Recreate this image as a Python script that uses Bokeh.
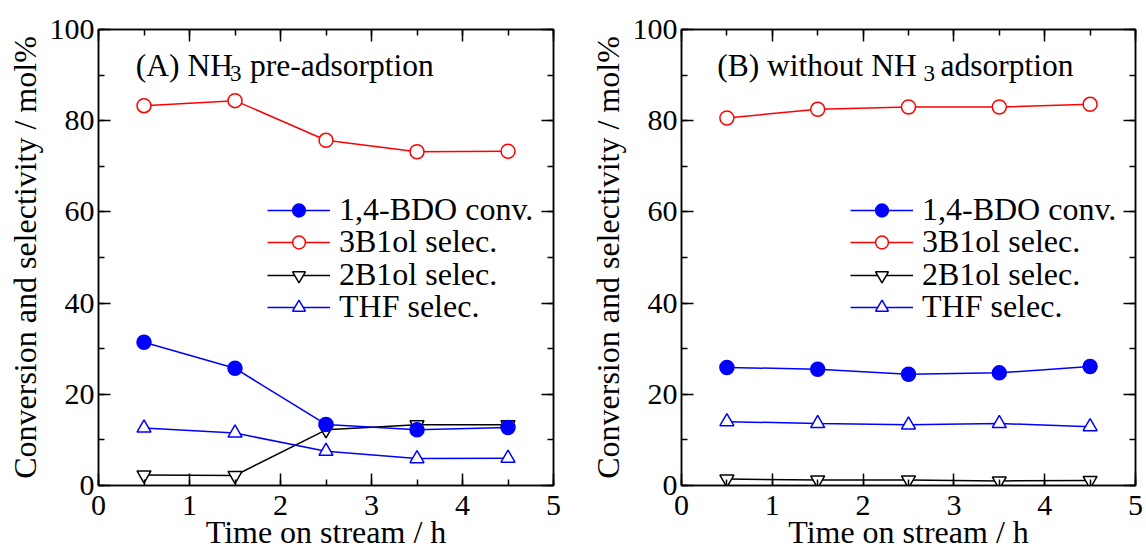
from bokeh.plotting import figure
from bokeh.models import Range1d, SingleIntervalTicker, LinearAxis, Legend, LegendItem, Label
from bokeh.layouts import row
from bokeh.embed import file_html
from bokeh.resources import INLINE

FONT = "Liberation Serif"

# ---- data ----
time_h = [0.5, 1.5, 2.5, 3.5, 4.5]

a_bdo_conv = [31.4, 25.7, 13.4, 12.2, 12.7]
a_3b1ol_sel = [83.3, 84.4, 75.7, 73.2, 73.3]
a_2b1ol_sel = [2.3, 2.2, 12.2, 13.3, 13.3]
a_thf_sel = [12.6, 11.5, 7.5, 5.9, 6.0]

b_bdo_conv = [25.9, 25.5, 24.4, 24.7, 26.1]
b_3b1ol_sel = [80.6, 82.5, 83.0, 83.0, 83.6]
b_2b1ol_sel = [1.4, 1.2, 1.2, 1.0, 1.1]
b_thf_sel = [14.0, 13.6, 13.3, 13.6, 12.9]

series_labels = ["1,4-BDO conv.", "3B1ol selec.", "2B1ol selec.", "THF selec."]
series_colors = ["#0000ff", "#ff0000", "#000000", "#0000ff"]
series_markers = ["circle", "circle", "inverted_triangle", "triangle"]
series_fill = ["#0000ff", "#ffffff", "#ffffff", "#ffffff"]
draw_order = [2, 3, 1, 0]

x_label = "Time on stream / h"
y_label = "Conversion and selectivity / mol%"

title_a = ["(A) NH", "3", "pre-adsorption"]
title_b = ["(B) without NH", "3", "adsorption"]
title_a_x = [0.41, 1.445, 1.665]
title_b_x = [0.393, 2.665, 2.852]
title_y = [92.1, 90.3, 92.1]
title_sizes = ["31.5px", "23px", "31.5px"]

# legend rows: pixel offset of each row box above the frame bottom
legend_row_offsets = [257, 225, 192, 160]


def add_axis(p, side, interval, show_labels, label_text=None, label_standoff=0):
    ax = LinearAxis(ticker=SingleIntervalTicker(interval=interval, num_minor_ticks=2))
    ax.major_tick_in = 12
    ax.major_tick_out = 0
    ax.minor_tick_in = 6
    ax.minor_tick_out = 0
    for attr in ("axis_line", "major_tick_line", "minor_tick_line"):
        setattr(ax, attr + "_width", 1.5)
        setattr(ax, attr + "_color", "black")
    if show_labels:
        ax.major_label_text_font = FONT
        ax.major_label_text_font_size = "30px"
        ax.major_label_text_color = "black"
        ax.major_label_standoff = 10 if side == "below" else 4
        ax.axis_label = label_text
        ax.axis_label_text_font = FONT
        ax.axis_label_text_font_size = "32px"
        ax.axis_label_text_font_style = "normal"
        ax.axis_label_text_color = "black"
        ax.axis_label_standoff = label_standoff
    else:
        ax.major_label_text_font_size = "2px"
        ax.major_label_text_color = None
        ax.major_label_standoff = 0
    p.add_layout(ax, side)


def make_panel(series, title_parts, title_x, frame_w, border_right):
    p = figure(frame_width=frame_w, frame_height=456,
               min_border_left=98, min_border_right=border_right,
               min_border_top=29, min_border_bottom=65,
               x_range=Range1d(0, 5), y_range=Range1d(0, 100),
               x_axis_type=None, y_axis_type=None,
               output_backend="svg", toolbar_location=None)
    p.outline_line_color = "black"
    p.outline_line_width = 1.5
    p.background_fill_color = "white"
    p.border_fill_color = "white"
    p.xgrid.visible = False
    p.ygrid.visible = False

    add_axis(p, "below", 1, True, x_label, -4)
    add_axis(p, "left", 20, True, y_label, 4)
    add_axis(p, "above", 1, False)
    add_axis(p, "right", 20, False)

    renderers = {}
    for i in draw_order:
        ln = p.line(time_h, series[i], line_color=series_colors[i], line_width=1.5)
        sc = p.scatter(time_h, series[i], marker=series_markers[i], size=14,
                       line_color=series_colors[i], fill_color=series_fill[i], line_width=1.5)
        renderers[i] = [ln, sc]

    for i in range(4):
        item = LegendItem(label=series_labels[i], renderers=renderers[i])
        leg = Legend(items=[item], location=(169, legend_row_offsets[i]), padding=0, margin=0,
                     spacing=0, glyph_width=63, glyph_height=32, label_height=32, label_standoff=9,
                     label_text_font=FONT, label_text_font_size="32px", label_text_color="black",
                     background_fill_alpha=0, border_line_color=None)
        p.add_layout(leg)

    for txt, xx, yy, fs in zip(title_parts, title_x, title_y, title_sizes):
        p.add_layout(Label(x=xx, y=yy, text=txt, text_font=FONT, text_font_size=fs,
                           text_baseline="alphabetic", text_color="black"))
    return p


left = make_panel([a_bdo_conv, a_3b1ol_sel, a_2b1ol_sel, a_thf_sel], title_a, title_a_x, 455, 30)
right = make_panel([b_bdo_conv, b_3b1ol_sel, b_2b1ol_sel, b_thf_sel], title_b, title_b_x, 454, 11)

layout = row(left, right)
open("out.html", "w").write(file_html(layout, INLINE))
